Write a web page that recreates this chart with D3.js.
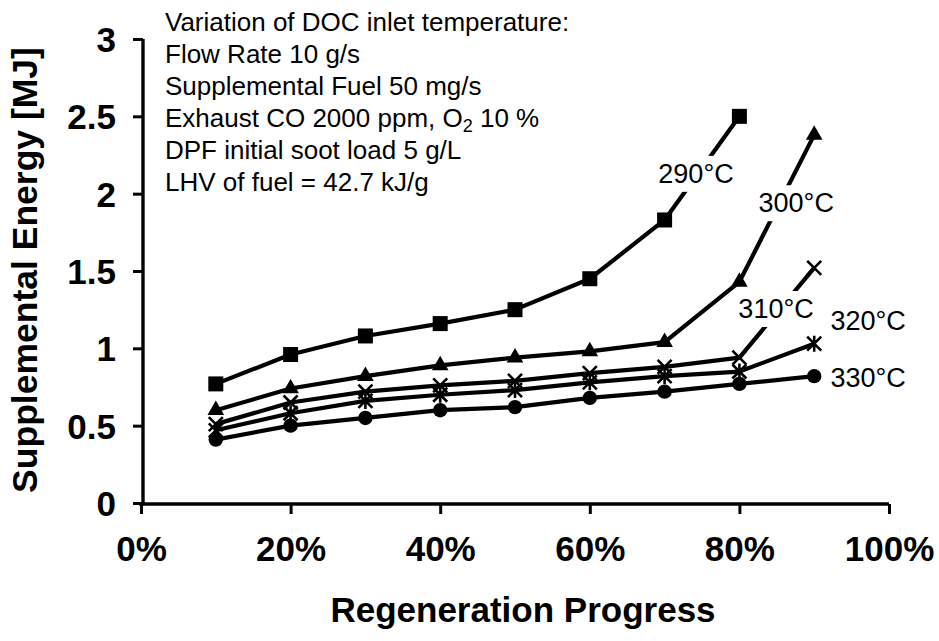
<!DOCTYPE html>
<html>
<head>
<meta charset="utf-8">
<script src="https://cdn.jsdelivr.net/npm/d3@7/dist/d3.min.js"></script>
<style>
  html, body { margin: 0; padding: 0; background: #fff; }
  svg { display: block; }
  text { font-family: "Liberation Sans", Arial, Helvetica, sans-serif; fill: #000; }
</style>
</head>
<body>
<svg id="chart" width="939" height="641"></svg>
<script>
// Regeneration progress (%) at which energy was evaluated
const progress = [10, 20, 30, 40, 50, 60, 70, 80, 90];

// Supplemental energy [MJ] for each DOC inlet temperature
const energy290 = [0.77, 0.96, 1.08, 1.16, 1.25, 1.45, 1.83, 2.50];
const energy300 = [0.60, 0.74, 0.82, 0.89, 0.94, 0.98, 1.04, 1.43, 2.38];
const energy310 = [0.51, 0.65, 0.72, 0.76, 0.79, 0.84, 0.88, 0.94, 1.52];
const energy320 = [0.47, 0.58, 0.66, 0.70, 0.73, 0.78, 0.82, 0.85, 1.03];
const energy330 = [0.41, 0.50, 0.55, 0.60, 0.62, 0.68, 0.72, 0.77, 0.82];

const seriesNames = ["290°C", "300°C", "310°C", "320°C", "330°C"];

const xTicks = [0, 20, 40, 60, 80, 100];
const yTicks = [0, 0.5, 1, 1.5, 2, 2.5, 3];

const conditions = [
  "Variation of DOC inlet temperature:",
  "Flow Rate 10 g/s",
  "Supplemental Fuel 50 mg/s",
  "Exhaust CO 2000 ppm, O|2| 10 %",
  "DPF initial soot load 5 g/L",
  "LHV of fuel = 42.7 kJ/g"
];

const svg = d3.select("#chart");

const x = d3.scaleLinear().domain([0, 100]).range([141, 889]);
const y = d3.scaleLinear().domain([0, 3]).range([503, 39]);

// ---- axes ----
const xAxis = d3.axisBottom(x).tickValues(xTicks).tickSize(10).tickPadding(22)
  .tickFormat(d => d + "%");
const yAxis = d3.axisLeft(y).tickValues(yTicks).tickSize(10).tickPadding(17)
  .tickFormat(d => d3.format("")(d));

const gx = svg.append("g").attr("transform", `translate(0,${y(0) + 1})`).call(xAxis);
const gy = svg.append("g").attr("transform", `translate(${x(0) + 2},0)`).call(yAxis);

[gx, gy].forEach(g => {
  g.select(".domain").attr("stroke", "#000").attr("stroke-width", 3.4);
  g.selectAll(".tick line").attr("stroke", "#000").attr("stroke-width", 3);
  g.selectAll(".tick text")
    .style("font-family", "'Liberation Sans', Arial, sans-serif")
    .style("font-weight", "bold")
    .style("font-size", "35px")
    .attr("fill", "#000");
});
// remove the end stubs of the domain path
gx.select(".domain").attr("d", `M${x(0) - 2},0H${x(100)}`);
gy.select(".domain").attr("d", `M0,${y(3)}V${y(0) + 1}`);
gy.selectAll(".tick text").attr("dy", "0.36em");

// axis titles
svg.append("text")
  .attr("x", 523).attr("y", 622)
  .attr("text-anchor", "middle")
  .style("font-weight", "bold").style("font-size", "35px")
  .text("Regeneration Progress");

svg.append("text")
  .attr("transform", `translate(37,${270}) rotate(-90)`)
  .attr("text-anchor", "middle")
  .style("font-weight", "bold").style("font-size", "35.5px")
  .text("Supplemental Energy [MJ]");

// ---- conditions block ----
const cond = svg.append("g");
conditions.forEach((line, i) => {
  const t = cond.append("text")
    .attr("x", 165).attr("y", 31 + i * 32)
    .style("font-size", "26px");
  const parts = line.split("|");
  parts.forEach((p, j) => {
    const ts = t.append("tspan").text(p);
    if (j === 1) ts.attr("baseline-shift", "-25%").style("font-size", "18px");
  });
});

// ---- series ----
const allSeries = [energy290, energy300, energy310, energy320, energy330];

const line = d3.line()
  .x((d, i) => x(progress[i]))
  .y(d => y(d));

const plot = svg.append("g");

allSeries.forEach(vals => {
  plot.append("path")
    .attr("d", line(vals))
    .attr("fill", "none")
    .attr("stroke", "#000")
    .attr("stroke-width", 4.2)
    .attr("stroke-linejoin", "round");
});

// markers
const markerKinds = ["square", "triangle", "cross", "asterisk", "circle"];

function drawMarker(g, kind, cx, cy) {
  if (kind === "square") {
    g.append("rect").attr("x", cx - 7.5).attr("y", cy - 7.5)
      .attr("width", 15).attr("height", 15).attr("fill", "#000");
  } else if (kind === "triangle") {
    g.append("path")
      .attr("d", d3.symbol().type(d3.symbolTriangle).size(120)())
      .attr("transform", `translate(${cx},${cy})`).attr("fill", "#000");
  } else if (kind === "circle") {
    g.append("circle").attr("cx", cx).attr("cy", cy).attr("r", 7.2).attr("fill", "#000");
  } else {
    const h = 7;
    let d = `M${cx - h},${cy - h}L${cx + h},${cy + h}M${cx + h},${cy - h}L${cx - h},${cy + h}`;
    if (kind === "asterisk") d += `M${cx},${cy - h - 1}V${cy + h + 1}`;
    g.append("path").attr("d", d).attr("stroke", "#000")
      .attr("stroke-width", 2.6).attr("fill", "none");
  }
}

allSeries.forEach((vals, s) => {
  const g = plot.append("g");
  vals.forEach((v, i) => drawMarker(g, markerKinds[s], x(progress[i]), y(v)));
});

// ---- series labels (placed in data units) ----
const labelAnchors = [
  { px: 74.2, val: 2.07, box: true },
  { px: 87.6, val: 1.88, box: true },
  { px: 84.9, val: 1.196, box: true },
  { px: 97.2, val: 1.118, box: false },
  { px: 97.2, val: 0.75, box: false }
];

const labels = svg.append("g");
seriesNames.forEach((name, i) => {
  const a = labelAnchors[i];
  const g = labels.append("g");
  const t = g.append("text")
    .attr("x", x(a.px)).attr("y", y(a.val))
    .attr("text-anchor", "middle")
    .style("font-size", "27px")
    .text(name);
  if (a.box) {
    const b = t.node().getBBox();
    g.insert("rect", "text")
      .attr("x", b.x - 4).attr("y", b.y - 3)
      .attr("width", b.width + 8).attr("height", b.height + 6)
      .attr("fill", "#fff");
  }
});
</script>
</body>
</html>
